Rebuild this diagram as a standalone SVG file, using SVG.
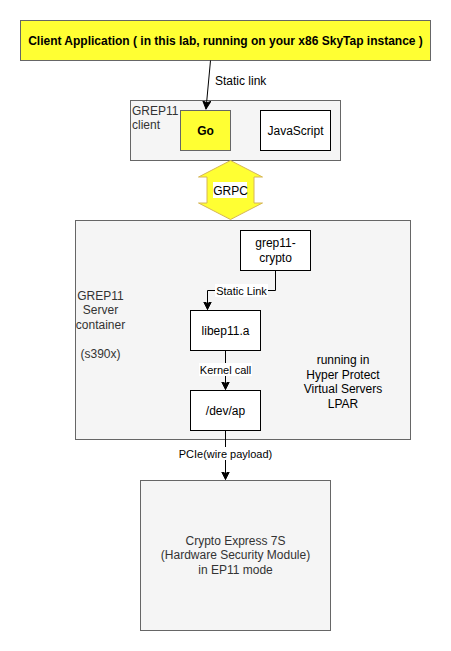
<svg xmlns="http://www.w3.org/2000/svg" width="451" height="651" viewBox="0 0 451 651">
<style>
text{font-family:"Liberation Sans",Arial,Helvetica,sans-serif;font-size:12px;fill:#000}
.g{fill:#333333}
.b{font-weight:bold}
.s{font-size:11px}
.c{text-anchor:middle}
.box{fill:#ffffff;stroke:#000000;stroke-width:1}
.gray{fill:#f5f5f5;stroke:#666666;stroke-width:1}
.yel{fill:#ffff33;stroke:#666666;stroke-width:1}
.edge{fill:none;stroke:#000000;stroke-width:1}
.lbg{fill:#ffffff}
</style>
<defs>
<marker id="arr" markerWidth="10" markerHeight="10" refX="8" refY="4" orient="auto" markerUnits="userSpaceOnUse">
<path d="M0,0 L8,4 L0,8 L2,4 Z" fill="#000000" stroke="#000000" stroke-width="1"/>
</marker>
</defs>
<rect width="451" height="651" fill="#ffffff"/>
<g id="client-app">
<rect class="yel" x="20.5" y="20.5" width="410" height="40"/>
<text class="b c" x="225.5" y="44.5">Client Application ( in this lab, running on your x86 SkyTap instance )</text>
</g>
<g id="grep11-client">
<rect class="gray" x="130.5" y="100.5" width="210" height="60"/>
<text class="g" x="132" y="114.5">GREP11</text>
<text class="g" x="132" y="128.5">client</text>
</g>
<g id="go">
<rect class="yel" x="180.5" y="110.5" width="50" height="40"/>
<text class="b c" x="205.5" y="134.5">Go</text>
</g>
<g id="javascript">
<rect class="box" x="260.5" y="110.5" width="70" height="40"/>
<text class="c" x="295.5" y="134.5">JavaScript</text>
</g>
<g id="server-container">
<rect class="gray" x="75.5" y="220.5" width="335" height="219"/>
<text class="g c" x="100.5" y="300">GREP11</text>
<text class="g c" x="100.5" y="314.4">Server</text>
<text class="g c" x="100.5" y="328.8">container</text>
<text class="g c" x="100.5" y="357.6">(s390x)</text>
<text class="c" x="343" y="364.4">running in</text>
<text class="c" x="343" y="378.8">Hyper Protect</text>
<text class="c" x="343" y="393.2">Virtual Servers</text>
<text class="c" x="343" y="407.6">LPAR</text>
</g>
<g id="grpc">
<path d="M230.5,160.5 L262.5,177 L254,177 L254,203 L262.5,203 L230.5,219.5 L198.5,203 L207,203 L207,177 L198.5,177 Z" fill="#ffff33" stroke="#d6b656" stroke-width="1"/>
<rect class="lbg" x="213" y="182" width="34" height="16"/>
<text class="c" x="230.5" y="194.5">GRPC</text>
</g>
<g id="grep11-crypto">
<rect class="box" x="240.5" y="230.5" width="70" height="40"/>
<text class="c" x="275.5" y="247.3">grep11-</text>
<text class="c" x="275.5" y="261.7">crypto</text>
</g>
<g id="libep11">
<rect class="box" x="190.5" y="310.5" width="70" height="40"/>
<text class="c" x="225.5" y="334.5">libep11.a</text>
</g>
<g id="devap">
<rect class="box" x="190.5" y="390.5" width="70" height="40"/>
<text class="c" x="225.5" y="414.5">/dev/ap</text>
</g>
<g id="crypto-express">
<rect class="gray" x="140.5" y="480.5" width="190" height="150"/>
<text class="g c" x="235.5" y="545">Crypto Express 7S</text>
<text class="g c" x="235.5" y="559.4">(Hardware Security Module)</text>
<text class="g c" x="235.5" y="573.8">in EP11 mode</text>
</g>
<g id="connectors">
<path class="edge" d="M210.5,60.5 L206,109" marker-end="url(#arr)"/>
<text x="215" y="85">Static link</text>
<path class="edge" d="M275.5,270.5 L275.5,290.5 L207.5,290.5 L207.5,309.5" marker-end="url(#arr)"/>
<rect class="lbg" x="215" y="284" width="53" height="13"/>
<text class="s c" x="241.5" y="294.5">Static Link</text>
<path class="edge" d="M225.5,350.5 L225.5,389.5" marker-end="url(#arr)"/>
<rect class="lbg" x="199" y="363" width="53" height="13"/>
<text class="s c" x="225.5" y="373.5">Kernel call</text>
<path class="edge" d="M225.5,430.5 L225.5,479.5" marker-end="url(#arr)"/>
<rect class="lbg" x="179" y="447" width="93" height="13"/>
<text class="s c" x="225.5" y="457.5">PCIe(wire payload)</text>
</g>
</svg>
